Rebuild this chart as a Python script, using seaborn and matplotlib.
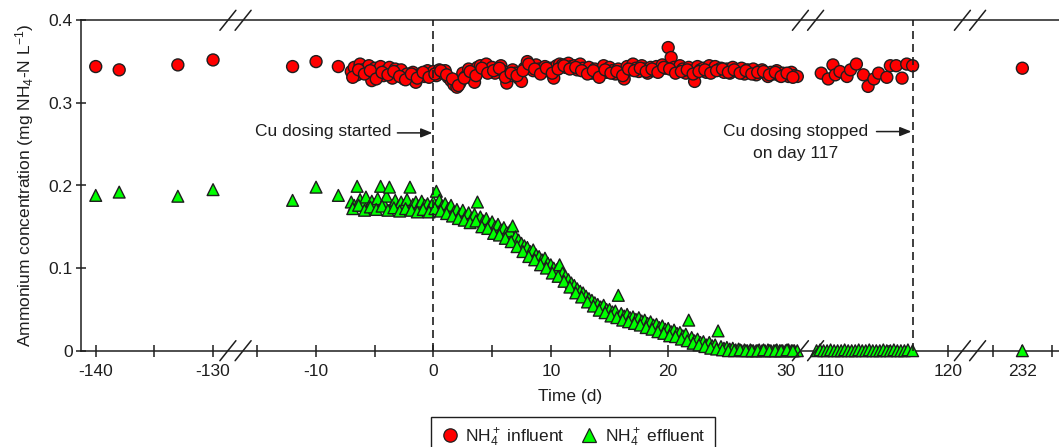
import numpy as np
import pandas as pd
import matplotlib
matplotlib.use("Agg")
import matplotlib.pyplot as plt
from matplotlib.lines import Line2D
from matplotlib.scale import FuncScale
from matplotlib.transforms import IdentityTransform
import seaborn as sns

# --- valeurs ---
EARLY_T = [-140.0, -138.0, -133.0, -130.0, -12.0, -10.0, -8.1]
INF_EARLY = [0.344, 0.340, 0.346, 0.352, 0.344, 0.350, 0.344]
EFF_EARLY = [0.188, 0.192, 0.187, 0.195, 0.182, 0.198, 0.188]

DENSE_T = [
    -7.0, -6.75, -6.5, -6.25, -6.0, -5.75, -5.5, -5.25, -5.0, -4.75, -4.5, -4.25,
    -4.0, -3.75, -3.5, -3.25, -3.0, -2.75, -2.5, -2.25, -2.0, -1.75, -1.5, -1.25,
    -1.0, -0.75, -0.5, -0.25, 0.0, 0.25, 0.5, 0.75, 1.0, 1.25, 1.5, 1.75,
    2.0, 2.25, 2.5, 2.75, 3.0, 3.25, 3.5, 3.75, 4.0, 4.25, 4.5, 4.75,
    5.0, 5.25, 5.5, 5.75, 6.0, 6.25, 6.5, 6.75, 7.0, 7.25, 7.5, 7.75,
    8.0, 8.25, 8.5, 8.75, 9.0, 9.25, 9.5, 9.75, 10.0, 10.25, 10.5, 10.75,
    11.0, 11.25, 11.5, 11.75, 12.0, 12.25, 12.5, 12.75, 13.0, 13.25, 13.5, 13.75,
    14.0, 14.25, 14.5, 14.75, 15.0, 15.25, 15.5, 15.75, 16.0, 16.25, 16.5, 16.75,
    17.0, 17.25, 17.5, 17.75, 18.0, 18.25, 18.5, 18.75, 19.0, 19.25, 19.5, 19.75,
    20.0, 20.25, 20.5, 20.75, 21.0, 21.25, 21.5, 21.75, 22.0, 22.25, 22.5, 22.75,
    23.0, 23.25, 23.5, 23.75, 24.0, 24.25, 24.5, 24.75, 25.0, 25.25, 25.5, 25.75,
    26.0, 26.25, 26.5, 26.75, 27.0, 27.25, 27.5, 27.75, 28.0, 28.25, 28.5, 28.75,
    29.0, 29.25, 29.5, 29.75, 30.0, 30.25, 30.5, 30.75, 31.0,
]
INF_DENSE = [
    0.338, 0.343, 0.334, 0.347, 0.340, 0.336, 0.345, 0.327, 0.342, 0.338, 0.344, 0.333,
    0.339, 0.343, 0.330, 0.341, 0.336, 0.340, 0.329, 0.335, 0.331, 0.337, 0.325, 0.333,
    0.336, 0.332, 0.339, 0.334, 0.338, 0.333, 0.340, 0.336, 0.339, 0.331, 0.327, 0.322,
    0.319, 0.324, 0.336, 0.332, 0.341, 0.336, 0.325, 0.343, 0.345, 0.340, 0.347, 0.338,
    0.343, 0.336, 0.341, 0.345, 0.338, 0.324, 0.333, 0.340, 0.336, 0.330, 0.326, 0.342,
    0.350, 0.344, 0.339, 0.346, 0.341, 0.337, 0.344, 0.339, 0.342, 0.330, 0.345, 0.347,
    0.346, 0.343, 0.348, 0.344, 0.345, 0.340, 0.347, 0.342, 0.338, 0.343, 0.336, 0.341,
    0.334, 0.340, 0.345, 0.337, 0.343, 0.339, 0.335, 0.341, 0.336, 0.329, 0.344, 0.340,
    0.347, 0.342, 0.338, 0.345, 0.341, 0.336, 0.343, 0.339, 0.344, 0.340, 0.346, 0.342,
    0.367, 0.355, 0.343, 0.338, 0.345, 0.341, 0.336, 0.343, 0.338, 0.326, 0.344, 0.340,
    0.342, 0.337, 0.345, 0.339, 0.344, 0.340, 0.342, 0.337, 0.341, 0.336, 0.343, 0.339,
    0.338, 0.342, 0.335, 0.340, 0.337, 0.341, 0.334, 0.338, 0.340, 0.336, 0.332, 0.337,
    0.335, 0.339, 0.333, 0.336, 0.334, 0.332, 0.337, 0.333, 0.332,
]
EFF_DENSE = [
    0.180, 0.176, 0.199, 0.183, 0.178, 0.186, 0.174, 0.181, 0.177, 0.184, 0.199, 0.179,
    0.187, 0.198, 0.176, 0.182, 0.174, 0.180, 0.176, 0.183, 0.198, 0.177, 0.180, 0.175,
    0.181, 0.176, 0.178, 0.174, 0.180, 0.193, 0.182, 0.175, 0.178, 0.172, 0.176, 0.168,
    0.171, 0.165, 0.170, 0.163, 0.167, 0.160, 0.165, 0.180, 0.162, 0.157, 0.160, 0.152,
    0.156, 0.150, 0.153, 0.146, 0.149, 0.143, 0.145, 0.151, 0.138, 0.134, 0.130, 0.127,
    0.125, 0.120, 0.122, 0.116, 0.114, 0.110, 0.112, 0.106, 0.104, 0.100, 0.098, 0.104,
    0.094, 0.090, 0.086, 0.082, 0.079, 0.075, 0.072, 0.070, 0.066, 0.063, 0.061, 0.058,
    0.056, 0.053, 0.055, 0.050, 0.050, 0.047, 0.048, 0.067, 0.045, 0.042, 0.044, 0.040,
    0.041, 0.038, 0.040, 0.036, 0.037, 0.033, 0.035, 0.031, 0.032, 0.028, 0.030, 0.026,
    0.027, 0.023, 0.025, 0.021, 0.022, 0.018, 0.020, 0.037, 0.016, 0.012, 0.014, 0.010,
    0.011, 0.007, 0.010, 0.006, 0.007, 0.024, 0.005, 0.003, 0.004, 0.002, 0.003, 0.001,
    0.002, 0.000, 0.001, 0.000, 0.001, 0.000, 0.000, 0.001, 0.000, 0.000, 0.001, 0.000,
    0.000, 0.001, 0.000, 0.000, 0.000, 0.001, 0.000, 0.000, 0.000,
]

# mesures intercalées (bande de points plus épaisse)
DENSE_T_B = [
    -6.875, -6.375, -5.875, -5.375, -4.875, -4.375, -3.875, -3.375, -2.875, -2.375, -1.875, -1.375,
    -0.875, -0.375, 0.125, 0.625, 1.125, 1.625, 2.125, 2.625, 3.125, 3.625, 4.125, 4.625,
    5.125, 5.625, 6.125, 6.625, 7.125, 7.625, 8.125, 8.625, 9.125, 9.625, 10.125, 10.625,
    11.125, 11.625, 12.125, 12.625, 13.125, 13.625, 14.125, 14.625, 15.125, 15.625, 16.125, 16.625,
    17.125, 17.625, 18.125, 18.625, 19.125, 19.625, 20.125, 20.625, 21.125, 21.625, 22.125, 22.625,
    23.125, 23.625, 24.125, 24.625, 25.125, 25.625, 26.125, 26.625, 27.125, 27.625, 28.125, 28.625,
    29.125, 29.625, 30.125, 30.625,
]
INF_DENSE_B = [
    0.331, 0.340, 0.335, 0.339, 0.329, 0.337, 0.334, 0.338, 0.332, 0.328, 0.335, 0.330,
    0.337, 0.331, 0.335, 0.339, 0.334, 0.329, 0.321, 0.330, 0.338, 0.333, 0.342, 0.336,
    0.339, 0.342, 0.331, 0.336, 0.333, 0.339, 0.347, 0.341, 0.335, 0.342, 0.336, 0.341,
    0.345, 0.341, 0.343, 0.339, 0.335, 0.339, 0.331, 0.340, 0.336, 0.338, 0.333, 0.341,
    0.339, 0.342, 0.338, 0.341, 0.337, 0.343, 0.341, 0.336, 0.338, 0.340, 0.335, 0.338,
    0.340, 0.336, 0.339, 0.341, 0.337, 0.340, 0.336, 0.339, 0.335, 0.337, 0.338, 0.334,
    0.337, 0.332, 0.336, 0.331,
]
EFF_DENSE_B = [
    0.172, 0.176, 0.170, 0.174, 0.171, 0.175, 0.170, 0.173, 0.169, 0.172, 0.170, 0.168,
    0.171, 0.168, 0.172, 0.169, 0.166, 0.163, 0.160, 0.158, 0.155, 0.157, 0.150, 0.148,
    0.142, 0.140, 0.136, 0.132, 0.126, 0.120, 0.114, 0.110, 0.104, 0.100, 0.094, 0.090,
    0.084, 0.077, 0.070, 0.065, 0.059, 0.054, 0.049, 0.046, 0.042, 0.040, 0.037, 0.035,
    0.033, 0.031, 0.028, 0.026, 0.023, 0.021, 0.018, 0.017, 0.014, 0.012, 0.009, 0.007,
    0.005, 0.003, 0.002, 0.001, 0.000, 0.000, 0.001, 0.000, 0.000, 0.000, 0.001, 0.000,
    0.000, 0.000, 0.001, 0.000,
]

INF_LATE_T = [109.2, 109.8, 110.2, 110.4, 110.8, 111.4, 111.7, 112.2, 112.8,
              113.2, 113.7, 114.1, 114.8, 115.1, 115.6, 116.1, 116.5, 117.0]
INF_LATE = [0.336, 0.329, 0.346, 0.334, 0.338, 0.332, 0.340, 0.347, 0.334,
            0.320, 0.329, 0.336, 0.331, 0.345, 0.345, 0.330, 0.347, 0.345]

EFF_LATE_T = [108.8, 109.1, 109.4, 109.7, 110.0, 110.3, 110.6, 110.9, 111.2, 111.5,
              111.8, 112.1, 112.4, 112.7, 113.0, 113.3, 113.6, 113.9, 114.2, 114.5,
              114.8, 115.1, 115.4, 115.7, 116.0, 116.3, 116.6, 117.0]
EFF_LATE = [0.000, 0.001, 0.000, 0.000, 0.001, 0.000, 0.000, 0.000, 0.001, 0.000,
            0.000, 0.000, 0.001, 0.000, 0.000, 0.001, 0.000, 0.000, 0.000, 0.001,
            0.000, 0.000, 0.001, 0.000, 0.000, 0.000, 0.001, 0.000]

FINAL_T = [232.0]
INF_FINAL = [0.342]
EFF_FINAL = [0.000]

LABEL_INF = r'NH$_4^+$ influent'
LABEL_EFF = r'NH$_4^+$ effluent'

MAJOR_TICKS = [-140, -130, -10, 0, 10, 20, 30, 110, 120, 232]
MINOR_TICKS = [-135, -15, -5, 5, 15, 25, 115, 230, 234]
Y_TICKS = [0, 0.1, 0.2, 0.3, 0.4]
Y_TICK_LABELS = ['0', '0.1', '0.2', '0.3', '0.4']

# axe des temps coupé : jours -> unités d'affichage (morceaux linéaires)
AXIS_DAYS = [-141.23, -128.3, -16.65, 31.74, 108.24, 121.73, 228.55, 234.51]
AXIS_UNITS = [81.3, 233.0, 238.0, 806.0, 810.0, 968.0, 972.0, 1059.0]

s0 = (AXIS_UNITS[1] - AXIS_UNITS[0]) / (AXIS_DAYS[1] - AXIS_DAYS[0])
s1 = (AXIS_UNITS[-1] - AXIS_UNITS[-2]) / (AXIS_DAYS[-1] - AXIS_DAYS[-2])
D_EXT = [AXIS_DAYS[0] - 1000] + AXIS_DAYS + [AXIS_DAYS[-1] + 1000]
U_EXT = [AXIS_UNITS[0] - 1000 * s0] + AXIS_UNITS + [AXIS_UNITS[-1] + 1000 * s1]


def jours_vers_unites(x):
    return np.interp(np.asarray(x, dtype=float), D_EXT, U_EXT)


def unites_vers_jours(u):
    return np.interp(np.asarray(u, dtype=float), U_EXT, D_EXT)


# --- tableau long pour seaborn ---
inf = pd.DataFrame({
    'Temps': EARLY_T + DENSE_T + DENSE_T_B + INF_LATE_T + FINAL_T,
    'Conc': INF_EARLY + INF_DENSE + INF_DENSE_B + INF_LATE + INF_FINAL,
})
inf['Serie'] = LABEL_INF
eff = pd.DataFrame({
    'Temps': EARLY_T + DENSE_T + DENSE_T_B + EFF_LATE_T + FINAL_T,
    'Conc': EFF_EARLY + EFF_DENSE + EFF_DENSE_B + EFF_LATE + EFF_FINAL,
})
eff['Serie'] = LABEL_EFF
df = pd.concat([inf, eff], ignore_index=True)

sns.set_style('ticks')
plt.rcParams['font.family'] = ['Liberation Sans', 'DejaVu Sans']
plt.rcParams['mathtext.fontset'] = 'custom'
plt.rcParams['mathtext.rm'] = 'Liberation Sans'
plt.rcParams['mathtext.it'] = 'Liberation Sans:italic'
plt.rcParams['mathtext.bf'] = 'Liberation Sans:bold'

INK = '#1e1e1e'
FS = 12.5
RED = '#ff0000'
GREEN = '#00ff00'

fig = plt.figure(figsize=(10.59, 4.47), dpi=100)
ax = fig.add_subplot(111)
fig.subplots_adjust(left=81.3 / 1059, right=1.0, bottom=1 - 350.7 / 447, top=1 - 20.3 / 447)

sns.scatterplot(data=df, x='Temps', y='Conc', hue='Serie', style='Serie',
                markers={LABEL_INF: 'o', LABEL_EFF: '^'},
                palette={LABEL_INF: RED, LABEL_EFF: GREEN},
                size='Serie', sizes={LABEL_INF: 74, LABEL_EFF: 72},
                edgecolor=INK, linewidth=1.0, legend=False,
                clip_on=False, zorder=3, ax=ax)

ax.set_xscale(FuncScale(ax.xaxis, (jours_vers_unites, unites_vers_jours)))
ax.set_xlim(AXIS_DAYS[0], AXIS_DAYS[-1])
ax.set_ylim(0, 0.4)

ax.set_xticks(MAJOR_TICKS, [str(t) for t in MAJOR_TICKS])
ax.set_xticks(MINOR_TICKS, minor=True)
ax.set_yticks(Y_TICKS, Y_TICK_LABELS)
ax.tick_params(axis='x', which='both', direction='inout', length=9, width=1.1,
               color=INK, labelsize=FS, labelcolor=INK, pad=5, top=False)
ax.tick_params(axis='y', direction='inout', length=7, width=1.1,
               color=INK, labelsize=FS, labelcolor=INK, pad=2.7, right=False)
ax.yaxis.set_minor_locator(matplotlib.ticker.NullLocator())

for side in ['left', 'bottom', 'top']:
    ax.spines[side].set_color(INK)
    ax.spines[side].set_linewidth(1.1)
ax.spines['right'].set_visible(False)

ax.set_xlabel('Time (d)', fontsize=FS, color=INK, labelpad=7)
ax.set_ylabel('Ammonium concentration (mg NH$_4$-N L$^{-1}$)', fontsize=FS, color=INK, labelpad=9)

# lignes de début / fin du dosage
for jour in [0, 117]:
    ax.axvline(jour, color=INK, lw=1.2, linestyle=(0, (4.8, 3)), zorder=4)

ax.text(-3.58, 0.2601, 'Cu dosing started', ha='right', va='baseline', fontsize=FS, color=INK)
ax.annotate('', xy=(-0.09, 0.2637), xytext=(-3.07, 0.2637),
            arrowprops=dict(arrowstyle='-|>,head_length=0.55,head_width=0.22',
                            color=INK, lw=1.1, shrinkA=0, shrinkB=0, mutation_scale=12.5))
ax.text(30.84, 0.2601, 'Cu dosing stopped', ha='center', va='baseline', fontsize=FS, color=INK)
ax.text(30.84, 0.2334, 'on day 117', ha='center', va='baseline', fontsize=FS, color=INK)
ax.annotate('', xy=(116.9, 0.2653), xytext=(113.92, 0.2653),
            arrowprops=dict(arrowstyle='-|>,head_length=0.55,head_width=0.22',
                            color=INK, lw=1.1, shrinkA=0, shrinkB=0, mutation_scale=12.5))

# marques de coupure // sur les axes haut et bas
u_gauche, u_droite = AXIS_UNITS[0], AXIS_UNITS[-1]
for k in [1, 3, 5]:
    u_mil = (AXIS_UNITS[k] + AXIS_UNITS[k + 1]) / 2
    fx = (u_mil - u_gauche) / (u_droite - u_gauche)
    for fy in [0, 1]:
        cx, cy = ax.transAxes.transform((fx, fy))
        for dx in [-7.6, 7.6]:
            fig.add_artist(Line2D([cx + dx - 8, cx + dx + 8], [cy - 10, cy + 10],
                                  transform=IdentityTransform(), color=INK, lw=1.1))

# légende en bas, centrée sous l'axe
poignees = [
    Line2D([], [], ls='', marker='o', markersize=9.6, markerfacecolor=RED,
           markeredgecolor=INK, markeredgewidth=0.9, label=LABEL_INF),
    Line2D([], [], ls='', marker='^', markersize=9.6, markerfacecolor=GREEN,
           markeredgecolor=INK, markeredgewidth=0.9, label=LABEL_EFF),
]
leg = fig.legend(handles=poignees, loc='upper center', bbox_to_anchor=(573 / 1059, 1 - 416.7 / 447),
                 ncol=2, fontsize=FS, frameon=True, fancybox=False, framealpha=1,
                 edgecolor=INK, borderpad=0.55, handlelength=1.0, handletextpad=0.4,
                 columnspacing=0.9, borderaxespad=0)
leg.get_frame().set_linewidth(1.0)
for t in leg.get_texts():
    t.set_color(INK)

fig.savefig('out.png', dpi=100)
